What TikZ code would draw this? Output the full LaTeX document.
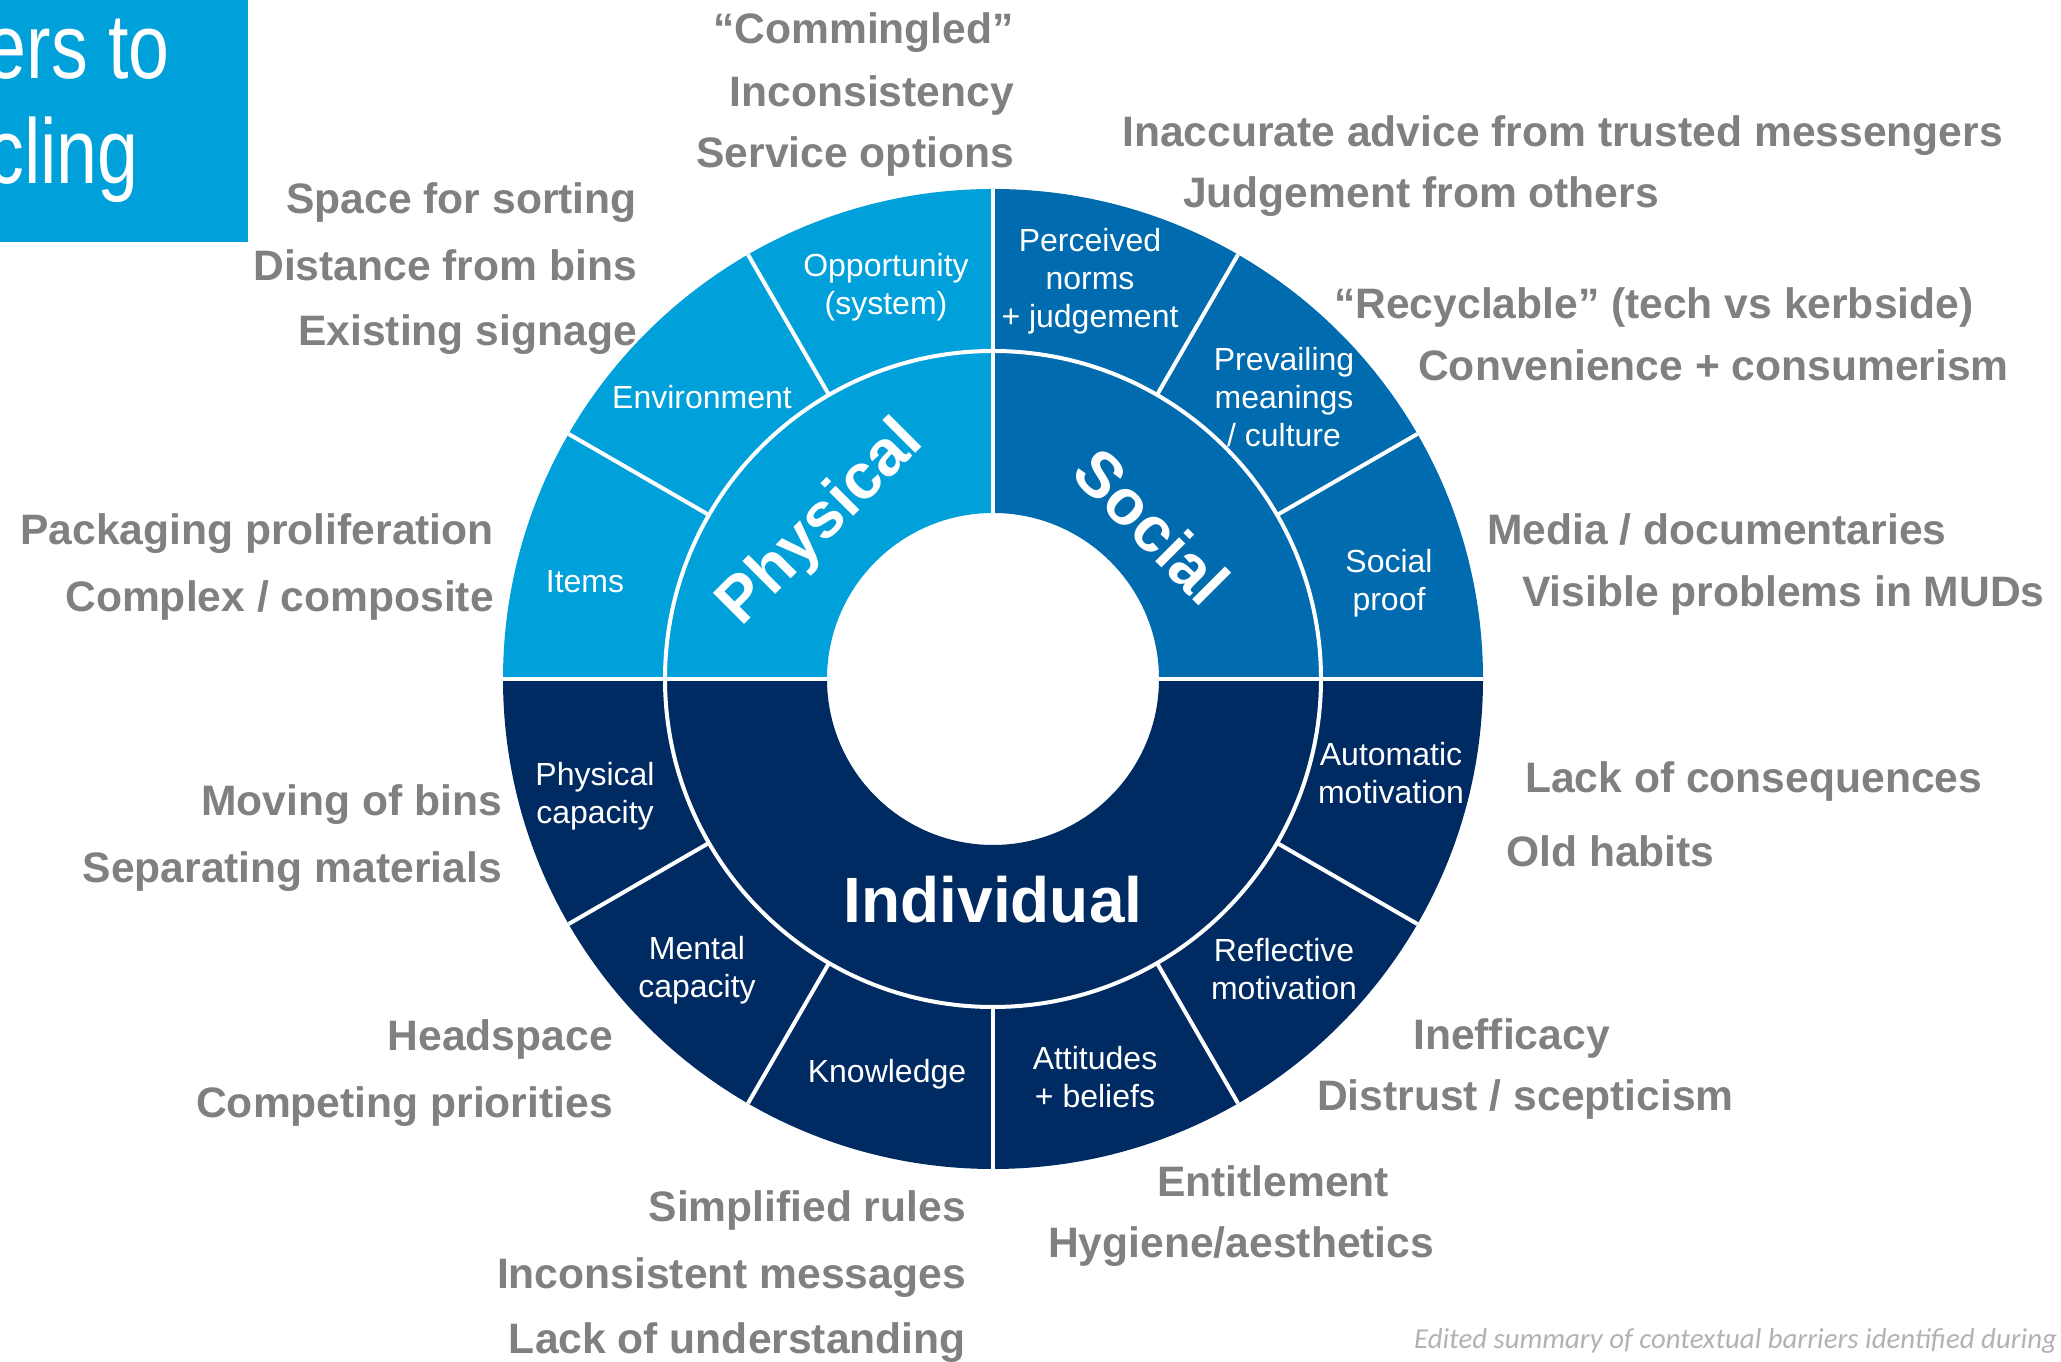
\documentclass[tikz,border=0pt]{standalone}
\usepackage{fontspec}
\setmainfont{Liberation Sans}
\newfontfamily\narrowfont[FakeStretch=0.8]{Liberation Sans}
\newfontfamily\capfont{Carlito}
\definecolor{physblue}{RGB}{0,160,218}
\definecolor{socblue}{RGB}{0,107,174}
\definecolor{indnavy}{RGB}{0,43,98}
\definecolor{labgray}{RGB}{128,128,128}
\definecolor{capgray}{RGB}{178,178,178}

\begin{document}
\begin{tikzpicture}[x=1bp, y=1bp,
    barrier/.style = {text=labgray, inner sep=0pt, font=\bfseries\fontsize{42.6bp}{51bp}\selectfont},
    seg/.style = {text=white, align=center, inner sep=0pt, font=\fontsize{32bp}{38bp}\selectfont},
    big/.style = {text=white, inner sep=0pt, font=\bfseries\fontsize{64bp}{70bp}\selectfont},
    title/.style = {text=white, inner sep=0pt, anchor=base east, font=\narrowfont\fontsize{92bp}{92bp}\selectfont},
    sep/.style = {white, line width=4bp}]

  \useasboundingbox (0,0) rectangle (2061,1362);
  \clip (0,0) rectangle (2061,1362);

  % title box
  \fill[physblue] (0,1120) rectangle (248,1362);
  \node[title] (t1) at (170,1283) {ers to};
  \node[title] (t2) at (139,1178) {cling};

  % wheel
  \begin{scope}[shift={(993,683)}]
    \fill[physblue] (90:166) -- (90:490) arc[start angle=90, end angle=180, radius=490]
      -- (180:166) arc[start angle=180, end angle=90, radius=166] -- cycle;
    \fill[socblue] (0:166) -- (0:490) arc[start angle=0, end angle=90, radius=490]
      -- (90:166) arc[start angle=90, end angle=0, radius=166] -- cycle;
    \fill[indnavy] (180:166) -- (180:490) arc[start angle=180, end angle=360, radius=490]
      -- (0:166) arc[start angle=360, end angle=180, radius=166] -- cycle;
    \draw[sep] (0,0) circle[radius=328];
    \foreach \a in {30,60,120,150,210,240,270,300,330}
      \draw[sep] (\a:328) -- (\a:490);
    \foreach \a in {0,90,180}
      \draw[sep] (\a:166) -- (\a:490);
  \end{scope}

  \node[big, rotate=45] (phys) at (822,838) {Physical};
  \node[big, rotate=-45] (soc) at (1152,836) {Social};
  \node[big, anchor=base] (ind) at (993,439) {Individual};

  \node[seg] (opp) at (886,1075) {Opportunity\\(system)};
  \node[seg] (norms) at (1090,1081) {Perceived\\norms\\+ judgement};
  \node[seg] (env) at (702,965) {Environment};
  \node[seg] (mean) at (1284,965) {Prevailing\\meanings\\/ culture};
  \node[seg] (items) at (585,780) {Items};
  \node[seg] (proof) at (1389,779) {Social\\proof};
  \node[seg] (pcap) at (595,566) {Physical\\capacity};
  \node[seg] (auto) at (1391,589) {Automatic\\motivation};
  \node[seg] (mcap) at (697,392) {Mental\\capacity};
  \node[seg] (refl) at (1284,393) {Reflective\\motivation};
  \node[seg] (know) at (887,288) {Knowledge};
  \node[seg] (att) at (1095,285) {Attitudes\\+ beliefs};

  % barriers, left side
  \node[barrier, anchor=base east] (comm) at (1014,1318) {“Commingled”};
  \node[barrier, anchor=base east] (incon) at (1014,1255) {Inconsistency};
  \node[barrier, anchor=base east] (serv) at (1014,1194) {Service options};
  \node[barrier, anchor=base east] (space) at (637,1148) {Space for sorting};
  \node[barrier, anchor=base east] (dist) at (637,1081) {Distance from bins};
  \node[barrier, anchor=base east] (sign) at (637,1016) {Existing signage};
  \node[barrier, anchor=base east] (pack) at (494,817) {Packaging proliferation};
  \node[barrier, anchor=base east] (compl) at (494,750) {Complex / composite};
  \node[barrier, anchor=base east] (move) at (502,546) {Moving of bins};
  \node[barrier, anchor=base east] (separ) at (502,479) {Separating materials};
  \node[barrier, anchor=base east] (head) at (613,311) {Headspace};
  \node[barrier, anchor=base east] (prio) at (613,244) {Competing priorities};
  \node[barrier, anchor=base east] (rules) at (966,140) {Simplified rules};
  \node[barrier, anchor=base east] (msgs) at (966,73) {Inconsistent messages};
  \node[barrier, anchor=base east] (under) at (966,8) {Lack of understanding};

  % barriers, right side
  \node[barrier, anchor=base west] (advice) at (1122,1215) {Inaccurate advice from trusted messengers};
  \node[barrier, anchor=base west] (judge) at (1183,1154) {Judgement from others};
  \node[barrier, anchor=base west] (recyc) at (1334,1043) {“Recyclable” (tech vs kerbside)};
  \node[barrier, anchor=base west] (conv) at (1418,981) {Convenience + consumerism};
  \node[barrier, anchor=base west] (media) at (1487,817) {Media / documentaries};
  \node[barrier, anchor=base west] (muds) at (1522,755) {Visible problems in MUDs};
  \node[barrier, anchor=base west] (conseq) at (1525,569) {Lack of consequences};
  \node[barrier, anchor=base west] (habits) at (1506,495) {Old habits};
  \node[barrier, anchor=base west] (ineff) at (1413,312) {Inefficacy};
  \node[barrier, anchor=base west] (distr) at (1317,251) {Distrust / scepticism};
  \node[barrier, anchor=base west] (entit) at (1157,165) {Entitlement};
  \node[barrier, anchor=base west] (hyg) at (1048,104) {Hygiene/aesthetics};

  \node[anchor=base west, inner sep=0pt, text=capgray, font=\capfont\itshape\fontsize{28.8bp}{32bp}\selectfont] (cap) at (1414,13) {Edited summary of contextual barriers identified during};
\end{tikzpicture}
\end{document}
